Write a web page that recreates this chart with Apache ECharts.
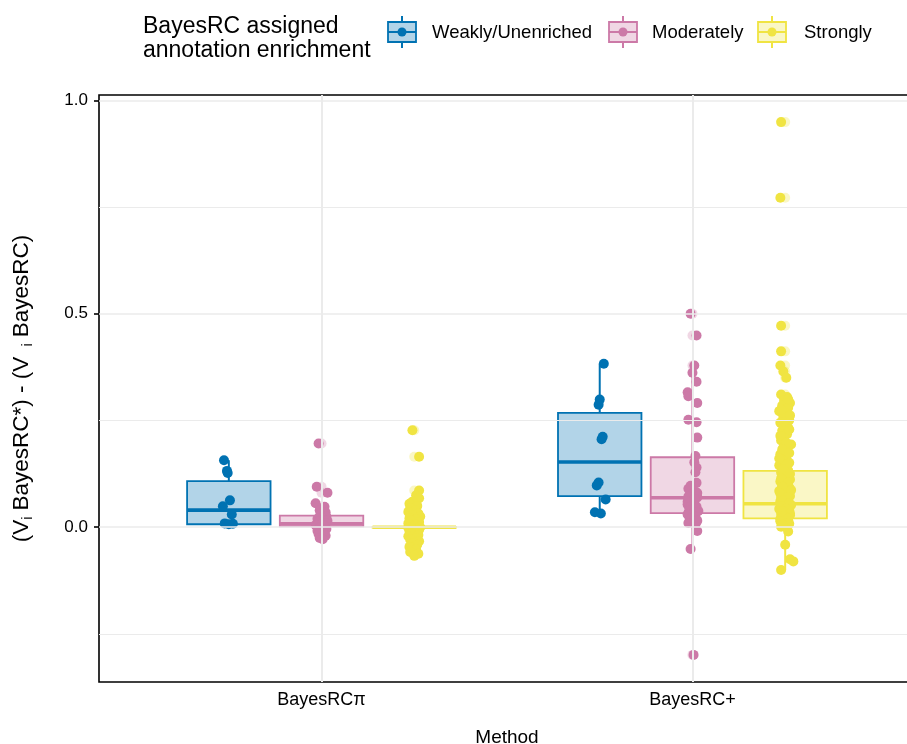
<!DOCTYPE html>
<html><head><meta charset="utf-8">
<script src="https://cdn.jsdelivr.net/npm/echarts@6/dist/echarts.min.js"></script>
<style>html,body{margin:0;padding:0;background:#fff}#c{width:907px;height:744px}</style>
</head><body><div id="c"></div>
<script>
// ---------- data ----------
const methods = ['BayesRCπ', 'BayesRC+'];
const groups = ['Weakly/Unenriched', 'Moderately', 'Strongly'];
const colors = ['#0072B2', '#CC79A7', '#F0E442'];
const fills = ['rgba(0,114,178,0.3)', 'rgba(204,121,167,0.3)', 'rgba(240,228,66,0.3)'];
const yLabelTicks = [0, 0.5, 1.0];
const yMinorTicks = [-0.25, 0.25, 0.75];

// box stats: [lower whisker, Q1, median, Q3, upper whisker]
const piWeakBox = [0.006, 0.007, 0.040, 0.108, 0.157];
const piModBox = [-0.028, 0.002, 0.008, 0.027, 0.056];
const piStrongBox = [-0.001, -0.001, 0.000, 0.001, 0.001];
const plusWeakBox = [0.032, 0.073, 0.153, 0.268, 0.383];
const plusModBox = [-0.051, 0.033, 0.069, 0.164, 0.362];
const plusStrongBox = [-0.100, 0.021, 0.055, 0.132, 0.298];

// outliers (drawn by the boxplot at the box centre)
const piWeakOut = [];
const piModOut = [0.196, 0.095, 0.081];
const piStrongOut = [0.227, 0.165, 0.086];
const plusWeakOut = [];
const plusModOut = [0.500, 0.449, 0.379, -0.299];
const plusStrongOut = [0.949, 0.772, 0.472, 0.412, 0.379, 0.365, 0.350, 0.311, 0.305];

// jittered points: values and jitter (thousandths of a category)
const piWeakVals = [0.157, 0.132, 0.127, 0.063, 0.049, 0.030, 0.009, 0.008, 0.007];
const piWeakJit = [-13, -5, -3, 3, -16, 8, -11, 11, 0];
const piModVals = [0.196, 0.095, 0.081, 0.056, 0.048, 0.040, 0.035, 0.030, 0.025, 0.022, 0.020, 0.017, 0.015, 0.013, 0.010, 0.007, 0.005, 0.004, 0.002, 0.000, -0.002, -0.004, -0.008, -0.012, -0.016, -0.020, -0.025, -0.028];
const piModJit = [-8, -13, 16, -16, 8, -5, 11, -3, 13, 0, -11, 5, 16, -8, 11, 0, -16, -13, 8, -5, -3, 13, -11, 5, -8, 11, -5, 3];
const piStrongVals = [0.227, 0.165, 0.086, 0.075, 0.068, 0.060, 0.055, 0.050, 0.045, 0.040, 0.036, 0.032, 0.028, 0.025, 0.021, 0.018, 0.015, 0.012, 0.009, 0.006, 0.004, 0.002, 0.001, 0.000, 0.000, 0.000, -0.001, -0.002, -0.004, -0.006, -0.009, -0.012, -0.015, -0.018, -0.021, -0.025, -0.029, -0.033, -0.037, -0.041, -0.046, -0.052, -0.058, -0.062, -0.067];
const piStrongJit = [-5, 13, 13, 5, 13, -5, -13, 8, -11, 3, -16, 11, -5, 16, -13, 5, -8, 13, -16, 3, -11, 11, -3, 5, -8, 16, -16, 8, -5, 13, -13, 3, -8, 11, -16, 5, -11, 13, -3, 8, -13, 5, -11, 11, 0];
const plusWeakVals = [0.383, 0.299, 0.287, 0.212, 0.206, 0.105, 0.098, 0.065, 0.035, 0.032];
const plusWeakJit = [11, 0, -3, 8, 5, -3, -8, 16, -13, 3];
const plusModVals = [0.500, 0.449, 0.379, 0.362, 0.341, 0.316, 0.307, 0.291, 0.252, 0.246, 0.210, 0.167, 0.152, 0.140, 0.129, 0.104, 0.097, 0.090, 0.083, 0.076, 0.070, 0.064, 0.058, 0.053, 0.048, 0.043, 0.038, 0.033, 0.028, 0.023, 0.018, 0.012, 0.006, -0.009, -0.051, -0.299,
  0.080, 0.072, 0.066, 0.060, 0.050, 0.045, 0.040, 0.035, 0.030, 0.025, 0.020, 0.015, 0.010];
const plusModJit = [-5, 11, 5, 0, 11, -13, -11, 13, -11, 11, 13, 8, 5, 11, 8, 11, -5, -11, 8, -3, 13, -8, 5, -13, 11, -5, 16, -11, 3, -8, 11, -3, 8, 13, -5, 3,
  13, -11, 5, -13, -3, 8, -8, 11, -13, 5, -5, 13, -11];
const plusStrongVals = [0.949, 0.772, 0.472, 0.412, 0.379, 0.365, 0.350, 0.311, 0.305, 0.298, 0.291, 0.285, 0.280, 0.272, 0.266, 0.258, 0.251, 0.245, 0.238, 0.233, 0.226, 0.218, 0.210, 0.203, 0.194, 0.186, 0.178, 0.171, 0.165, 0.158, 0.151, 0.145, 0.139, 0.133, 0.128, 0.122, 0.117, 0.112, 0.107, 0.102, 0.097, 0.093, 0.089, 0.085, 0.081, 0.077, 0.073, 0.069, 0.065, 0.061, 0.058, 0.055, 0.052, 0.049, 0.046, 0.043, 0.040, 0.037, 0.034, 0.031, 0.028, 0.025, 0.022, 0.019, 0.016, 0.012, 0.008, 0.004, 0.001, -0.010, -0.041, -0.075, -0.080, -0.100,
  0.300, 0.276, 0.262, 0.240, 0.229, 0.214, 0.198, 0.182, 0.174, 0.161, 0.148, 0.136, 0.125, 0.114, 0.104, 0.095, 0.087, 0.079, 0.071, 0.063, 0.056, 0.050, 0.044, 0.038, 0.032, 0.026, 0.020, 0.014, 0.010, 0.006];
const plusStrongJit = [-11, -13, -11, -11, -13, -5, 3, -11, 5, -3, 13, -8, 8, -16, 3, -5, 11, -13, 0, 8, -8, 5, -3, -11, 16, -5, 5, -13, 3, -8, 11, -16, 0, 8, -11, 5, -5, 13, -13, 3, -8, 11, -3, -16, 8, -5, 13, -11, 3, -13, 8, -3, 16, -8, 5, -16, 11, -3, 5, -11, 13, -5, 3, -13, 8, -8, 11, -3, -11, 8, 0, 13, 22, -11,
  8, -11, 13, -3, 11, -13, 3, -8, 11, -16, 5, -5, 13, -11, 8, -8, 16, -13, 5, -5, 11, -11, 3, -8, 13, -3, 8, -13, 5, -8];

// ---------- build ----------
const FONT = '"Liberation Sans", Arial, Helvetica, sans-serif';
const DODGE = 0.25, BOXW = 0.225, PT = 10;
const boxes = [[piWeakBox, piModBox, piStrongBox], [plusWeakBox, plusModBox, plusStrongBox]];
const outs = [[piWeakOut, piModOut, piStrongOut], [plusWeakOut, plusModOut, plusStrongOut]];
const vals = [[piWeakVals, piModVals, piStrongVals], [plusWeakVals, plusModVals, plusStrongVals]];
const jits = [[piWeakJit, piModJit, piStrongJit], [plusWeakJit, plusModJit, plusStrongJit]];
const centre = (m, g) => m + 1 + (g - 1) * DODGE;

const boxData = [];
for (let m = 0; m < 2; m++) for (let g = 0; g < 3; g++) {
  boxData.push([centre(m, g)].concat(boxes[m][g]).concat([g]));
}

const series = [];
// gridlines
series.push({
  type: 'scatter', data: [], z: 0, silent: true,
  markLine: {
    silent: true, symbol: 'none', label: { show: false }, animation: false,
    lineStyle: { color: '#EBEBEB', type: 'solid', width: 1.6 },
    data: yLabelTicks.map(v => ({ yAxis: v, lineStyle: { width: 1.7, color: '#EBEBEB', type: 'solid' } }))
      .concat(yMinorTicks.map(v => ({ yAxis: v, lineStyle: { width: 1.2, color: '#EBEBEB', type: 'solid' } })))
      .concat([1, 2].map(v => ({ xAxis: v, lineStyle: { width: 2, color: '#EBEBEB', type: 'solid' } })))
  }
});
// boxes
series.push({
  type: 'custom', z: 2, silent: true,
  data: boxData,
  encode: { x: 0, y: [1, 2, 3, 4, 5] },
  renderItem: function (params, api) {
    const x = api.value(0), g = api.value(6);
    const lo = api.coord([x, api.value(1)]);
    const q1 = api.coord([x - BOXW / 2, api.value(2)]);
    const md1 = api.coord([x - BOXW / 2, api.value(3)]);
    const md2 = api.coord([x + BOXW / 2, api.value(3)]);
    const q3 = api.coord([x + BOXW / 2, api.value(4)]);
    const hi = api.coord([x, api.value(5)]);
    const q1c = api.coord([x, api.value(2)]);
    const q3c = api.coord([x, api.value(4)]);
    const col = colors[g];
    return {
      type: 'group', children: [
        { type: 'line', shape: { x1: q3c[0], y1: q3c[1], x2: hi[0], y2: hi[1] }, style: { stroke: col, lineWidth: 2 } },
        { type: 'line', shape: { x1: q1c[0], y1: q1c[1], x2: lo[0], y2: lo[1] }, style: { stroke: col, lineWidth: 2 } },
        { type: 'rect', shape: { x: q1[0], y: q3[1], width: q3[0] - q1[0], height: q1[1] - q3[1] }, style: { fill: fills[g], stroke: col, lineWidth: 1.8 } },
        { type: 'line', shape: { x1: md1[0], y1: md1[1], x2: md2[0], y2: md2[1] }, style: { stroke: col, lineWidth: 3.6 } }
      ]
    };
  }
});
// outliers (light)
for (let g = 0; g < 3; g++) {
  const d = [];
  for (let m = 0; m < 2; m++) outs[m][g].forEach(v => d.push([centre(m, g), v]));
  series.push({ type: 'scatter', z: 3, silent: true, symbolSize: PT, data: d, itemStyle: { color: fills[g], opacity: 1 } });
}
// jittered points
for (let g = 0; g < 3; g++) {
  const d = [];
  for (let m = 0; m < 2; m++) vals[m][g].forEach((v, i) => d.push([centre(m, g) + jits[m][g][i] / 1000, v]));
  series.push({ name: groups[g], type: 'scatter', z: 4, silent: true, symbolSize: PT, data: d, itemStyle: { color: colors[g], opacity: 1 } });
}

// legend graphics
const keyX = [402, 623, 772];
const textX = [432, 652, 804];
const legendEls = [{
  type: 'text', left: 143, top: 15,
  style: { text: 'BayesRC assigned\nannotation enrichment', fontSize: 23, lineHeight: 24, fill: '#000', fontFamily: FONT }
}];
for (let g = 0; g < 3; g++) {
  const cx = keyX[g];
  legendEls.push({ type: 'line', shape: { x1: cx, y1: 16, x2: cx, y2: 48 }, style: { stroke: colors[g], lineWidth: 2 } });
  legendEls.push({ type: 'rect', shape: { x: cx - 14, y: 22, width: 28, height: 20 }, style: { fill: '#fff', stroke: null } });
  legendEls.push({ type: 'rect', shape: { x: cx - 14, y: 22, width: 28, height: 20 }, style: { fill: fills[g], stroke: colors[g], lineWidth: 1.8 } });
  legendEls.push({ type: 'line', shape: { x1: cx - 14, y1: 32, x2: cx + 14, y2: 32 }, style: { stroke: colors[g], lineWidth: 2 } });
  legendEls.push({ type: 'circle', shape: { cx: cx, cy: 32, r: 4.5 }, style: { fill: colors[g] } });
  legendEls.push({ type: 'text', x: textX[g], y: 33, style: { text: groups[g], fontSize: 18.5, fill: '#000', fontFamily: FONT, verticalAlign: 'middle', align: 'left' } });
}

const chart = echarts.init(document.getElementById('c'), null, { renderer: 'canvas' });
chart.setOption({
  animation: false,
  backgroundColor: '#fff',
  textStyle: { fontFamily: FONT },
  grid: { left: 99, right: -8, top: 95, bottom: 62, show: true, borderColor: '#000', borderWidth: 1.6, backgroundColor: 'transparent', outerBoundsMode: 'none', containLabel: false },
  xAxis: {
    type: 'value', min: 0.4, max: 2.6,
    name: 'Method', nameLocation: 'middle', nameGap: 46,
    nameTextStyle: { fontSize: 19, color: '#000', fontFamily: FONT },
    axisLine: { show: false },
    splitLine: { show: false },
    axisTick: { show: true, length: 5, lineStyle: { color: '#000', width: 1.6 }, customValues: [1, 2] },
    axisLabel: { customValues: [1, 2], formatter: v => methods[Math.round(v) - 1], fontSize: 18, color: '#000', margin: 9, fontFamily: FONT }
  },
  yAxis: {
    type: 'value', min: -0.3625, max: 1.0125,
    name: '(V{sub|i} BayesRC*) - (V {sub| i} BayesRC)', nameLocation: 'middle', nameGap: 64, nameRotate: 90,
    nameTextStyle: { fontSize: 22.5, color: '#000', fontFamily: FONT, rich: { sub: { fontSize: 14, padding: [12, 0, 0, 0], verticalAlign: 'bottom', fontFamily: FONT, color: '#000' } } },
    axisLine: { show: false },
    splitLine: { show: false },
    axisTick: { show: true, length: 5, lineStyle: { color: '#000', width: 1.6 }, customValues: yLabelTicks },
    axisLabel: { customValues: yLabelTicks, formatter: v => v.toFixed(1), fontSize: 17, color: '#000', margin: 11, fontFamily: FONT }
  },
  graphic: legendEls,
  series: series
});
</script></body></html>
